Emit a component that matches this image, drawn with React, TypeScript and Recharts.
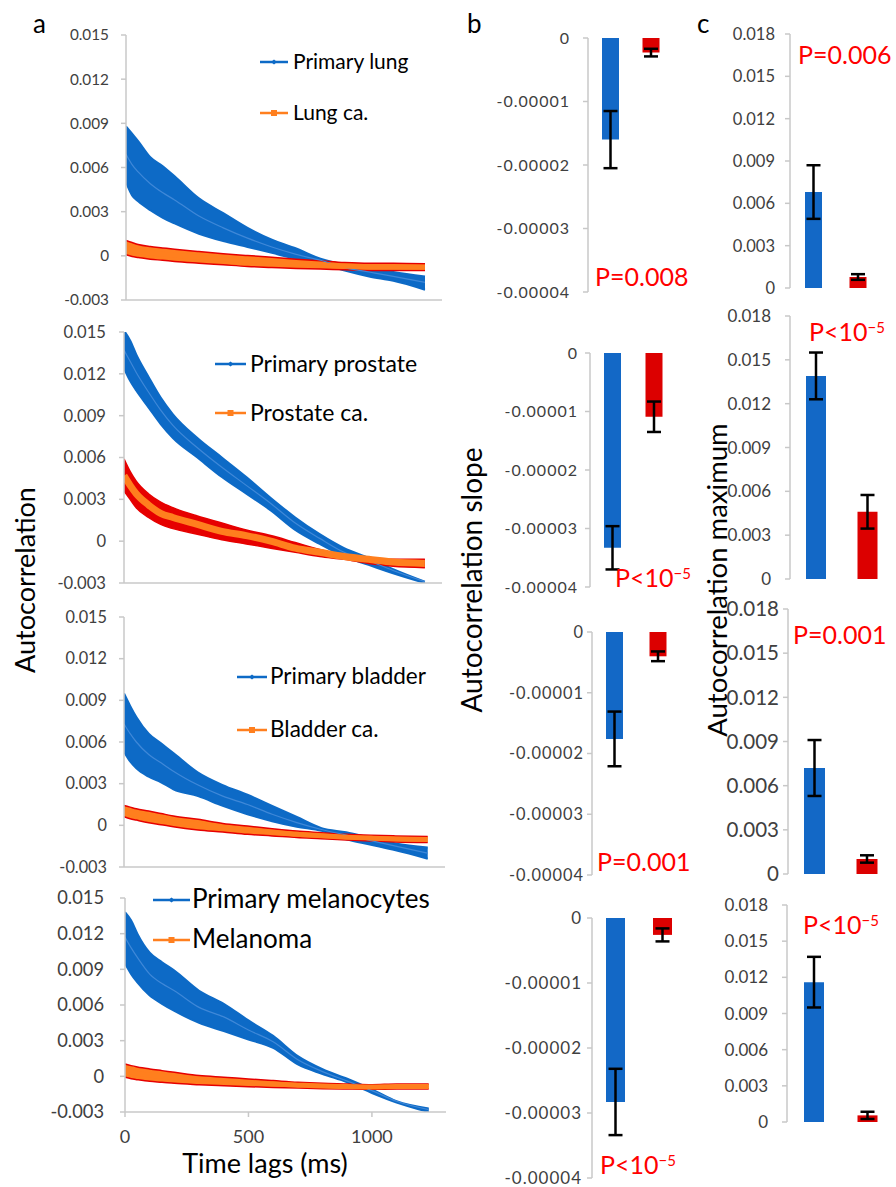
import React from 'react';
import { ComposedChart, Area, Line, XAxis, YAxis, BarChart, Bar, Cell, ErrorBar } from 'recharts';

const FONT = 'Lato, "Open Sans", sans-serif';
const BLUE_BAND = '#0d6ac6';
const BLUE_MEAN = '#3f88d8';
const ORANGE = '#ff7f1e';
const RED = '#e60000';
const BAR_BLUE = '#1368c6';
const BAR_RED = '#dc0000';
const AXIS = '#c8c8c8';
const TICK_TEXT = '#404040';
const P_RED = '#ff0000';

// ---------- data: panel a (time lags in ms) ----------
const times = [0, 25, 50, 100, 150, 200, 300, 400, 500, 600, 700, 800, 900, 1000, 1100, 1230];

const lungPrimHi = [0.0088, 0.0083, 0.0078, 0.0067, 0.0061, 0.0054, 0.0039, 0.0029, 0.0019, 0.0011, 0.0005, -0.0002, -0.0006, -0.0008, -0.0011, -0.0014];
const lungPrimLo = [0.005, 0.0041, 0.0037, 0.0031, 0.0026, 0.0022, 0.0015, 0.001, 0.0006, 0.0002, -0.0002, -0.0005, -0.001, -0.0014, -0.0017, -0.0023];
const lungPrimMean = [0.0069, 0.0062, 0.0057, 0.0049, 0.0043, 0.0038, 0.0027, 0.0019, 0.0012, 0.0006, 0.0001, -0.0003, -0.0008, -0.0011, -0.0014, -0.0018];
const lungCaHi = [0.00104, 0.0009, 0.00077, 0.00063, 0.00054, 0.00045, 0.00029, 0.00014, 0.00002, -0.00009, -0.00023, -0.00034, -0.00045, -0.0005, -0.0005, -0.00054];
const lungCaLo = [0.00007, -0.00005, -0.00011, -0.00023, -0.0003, -0.00038, -0.0005, -0.00061, -0.00072, -0.00079, -0.00086, -0.0009, -0.00095, -0.00099, -0.00099, -0.001];
const lungCaMean = [0.00055, 0.00042, 0.00033, 0.0002, 0.00012, 0.00004, -0.0001, -0.00024, -0.00035, -0.00044, -0.00055, -0.00062, -0.0007, -0.00075, -0.00075, -0.00077];

const prosPrimHi = [0.0151, 0.0144, 0.0134, 0.0118, 0.0103, 0.0091, 0.0074, 0.006, 0.0046, 0.0031, 0.0017, 0.0005, -0.0005, -0.0012, -0.002, -0.0029];
const prosPrimLo = [0.0124, 0.0115, 0.0108, 0.0096, 0.0084, 0.0074, 0.006, 0.0046, 0.0034, 0.0022, 0.0008, -0.0002, -0.0011, -0.0017, -0.0023, -0.003];
const prosPrimMean = [0.0137, 0.0129, 0.0121, 0.0107, 0.0094, 0.0083, 0.0067, 0.0053, 0.004, 0.0027, 0.0013, 0.0002, -0.0008, -0.0014, -0.0021, -0.0029];
const prosCaHi = [0.0059, 0.005, 0.0043, 0.0034, 0.0028, 0.0024, 0.0018, 0.0013, 0.0008, 0.0004, -0.0001, -0.0006, -0.001, -0.0012, -0.0013, -0.0013];
const prosCaLo = [0.0036, 0.003, 0.0024, 0.0017, 0.0012, 0.0009, 0.0005, 0.0001, -0.0002, -0.0005, -0.0008, -0.0011, -0.0013, -0.0016, -0.0018, -0.0019];
const prosCaMean = [0.0047, 0.004, 0.0034, 0.0026, 0.002, 0.0017, 0.0012, 0.0007, 0.0004, 0.0, -0.0005, -0.0008, -0.0011, -0.0013, -0.0015, -0.0016];

const bladPrimHi = [0.0095, 0.0086, 0.0078, 0.0066, 0.0059, 0.0052, 0.0038, 0.0029, 0.0022, 0.0014, 0.0006, -0.0002, -0.0005, -0.0009, -0.0013, -0.0016];
const bladPrimLo = [0.0053, 0.0046, 0.0041, 0.0035, 0.0031, 0.0026, 0.0021, 0.0014, 0.0008, 0.0003, -0.0001, -0.0004, -0.001, -0.0014, -0.0018, -0.0024];
const bladPrimMean = [0.0073, 0.0066, 0.006, 0.0051, 0.0045, 0.0039, 0.0029, 0.0021, 0.0015, 0.0008, 0.0002, -0.0003, -0.0007, -0.0011, -0.0015, -0.002];
const bladCaHi = [0.00143, 0.00131, 0.00119, 0.00103, 0.00085, 0.00067, 0.00043, 0.00014, -0.00005, -0.00024, -0.00041, -0.00053, -0.00065, -0.00072, -0.00076, -0.00081];
const bladCaLo = [0.00062, 0.00048, 0.00038, 0.00019, 0.00005, -0.0001, -0.00033, -0.00048, -0.00065, -0.00076, -0.00088, -0.00096, -0.00105, -0.00112, -0.0012, -0.00124];
const bladCaMean = [0.001, 0.0009, 0.0008, 0.0006, 0.00045, 0.0003, 0.00005, -0.00017, -0.00035, -0.0005, -0.00065, -0.00075, -0.00085, -0.00092, -0.00098, -0.00102];

const melPrimHi = [0.0138, 0.0131, 0.012, 0.0104, 0.0096, 0.0089, 0.0072, 0.0061, 0.0047, 0.0034, 0.0017, 0.0006, -0.0002, -0.0011, -0.0021, -0.0027];
const melPrimLo = [0.0095, 0.0086, 0.0079, 0.0068, 0.0061, 0.0055, 0.0045, 0.0038, 0.0031, 0.0024, 0.001, 0.0002, -0.0005, -0.0014, -0.0022, -0.003];
const melPrimMean = [0.0117, 0.0108, 0.01, 0.0086, 0.0078, 0.0072, 0.0058, 0.005, 0.0039, 0.0029, 0.0014, 0.0004, -0.0004, -0.0012, -0.0021, -0.0028];
const melCaHi = [0.00104, 0.0009, 0.00079, 0.00062, 0.00048, 0.00034, 0.00006, -0.00008, -0.00022, -0.00036, -0.0005, -0.00059, -0.00064, -0.0007, -0.00064, -0.00064];
const melCaLo = [-0.00008, -0.0002, -0.00028, -0.00042, -0.0005, -0.00059, -0.0007, -0.00079, -0.00087, -0.00093, -0.00098, -0.00104, -0.00107, -0.00109, -0.00107, -0.00107];
const melCaMean = [0.0005, 0.00035, 0.00025, 0.0001, 0.0, -0.00012, -0.00032, -0.00044, -0.00055, -0.00065, -0.00074, -0.00082, -0.00086, -0.0009, -0.00086, -0.00086];

const lungNames = ['Primary lung', 'Lung ca.'];
const prosNames = ['Primary prostate', 'Prostate ca.'];
const bladNames = ['Primary bladder', 'Bladder ca.'];
const melNames = ['Primary melanocytes', 'Melanoma'];

const timeTicksHidden = [0, 260, 520, 780, 1040, 1300];
const timeTicksShown = [0, 500, 1000];
const acTicks = [-0.003, 0, 0.003, 0.006, 0.009, 0.012, 0.015];

// ---------- data: panels b and c ----------
const groups = ['Primary', 'Cancer'];
const slopeLung = [-0.000016, -0.0000023];
const slopeLungErr = [0.0000045, 0.0000006];
const slopePros = [-0.0000333, -0.0000109];
const slopeProsErr = [0.0000037, 0.0000026];
const slopeBlad = [-0.0000176, -0.000004];
const slopeBladErr = [0.0000045, 0.0000008];
const slopeMel = [-0.0000283, -0.0000026];
const slopeMelErr = [0.0000051, 0.000001];
const slopeTicks = [-0.00004, -0.00003, -0.00002, -0.00001, 0];

const maxLung = [0.0068, 0.00078];
const maxLungErr = [0.0019, 0.0002];
const maxPros = [0.0139, 0.0046];
const maxProsErr = [0.0016, 0.00115];
const maxBlad = [0.0072, 0.00102];
const maxBladErr = [0.0019, 0.00025];
const maxMel = [0.0116, 0.00055];
const maxMelErr = [0.0021, 0.0003];
const maxTicks = [0, 0.003, 0.006, 0.009, 0.012, 0.015, 0.018];

const pLabels = ['P=0.008', 'P<10', 'P=0.001', 'P<10', 'P=0.006', 'P<10', 'P=0.001', 'P<10'];

function buildRows(pHi: number[], pLo: number[], pMean: number[], cHi: number[], cLo: number[], cMean: number[]) {
  return times.map((t, i) => ({
    t,
    prim: [pLo[i], pHi[i]],
    primMean: pMean[i],
    ca: [cLo[i], cHi[i]],
    caMean: cMean[i],
  }));
}

const fmt3 = (v: number) => (v === 0 ? '0' : v.toFixed(3));
const fmt5 = (v: number) => (v === 0 ? '0' : v.toFixed(5));

type Plot = { l: number; t: number; r: number; b: number };

function AcChart({ rows, plot, fs, tm, showLabels, redBand }: { rows: any[]; plot: Plot; fs: number; tm: number; showLabels?: boolean; redBand?: boolean }) {
  const yw = 110, mt = 14, mr = 12;
  const xh = showLabels ? 44 : 14;
  const left = plot.l - yw;
  const top = plot.t - mt;
  const width = plot.r - left + mr;
  const height = plot.b - plot.t + mt + xh;
  return (
    <div style={{ position: 'absolute', left, top }}>
      <ComposedChart width={width} height={height} data={rows} margin={{ top: mt, right: mr, bottom: 0, left: 0 }}>
        <XAxis
          dataKey="t"
          type="number"
          domain={[0, 1300]}
          allowDataOverflow
          ticks={showLabels ? timeTicksShown : timeTicksHidden}
          interval={0}
          tick={showLabels ? { fontSize: 18, fill: TICK_TEXT, fontFamily: FONT } : false}
          tickSize={5}
          tickMargin={13}
          height={xh}
          axisLine={{ stroke: AXIS, strokeWidth: 1.5 }}
          tickLine={{ stroke: AXIS, strokeWidth: 1.5 }}
        />
        <YAxis
          type="number"
          domain={[-0.003, 0.015]}
          allowDataOverflow
          ticks={acTicks}
          interval={0}
          width={yw}
          tickSize={5}
          tickMargin={tm}
          tickFormatter={fmt3}
          tick={{ fontSize: fs, fill: TICK_TEXT, fontFamily: FONT }}
          axisLine={{ stroke: AXIS, strokeWidth: 1.5 }}
          tickLine={{ stroke: AXIS, strokeWidth: 1.5 }}
        />
        <Area dataKey="prim" type="monotone" fill={BLUE_BAND} fillOpacity={1} stroke={BLUE_BAND} strokeWidth={2} isAnimationActive={false} activeDot={false} />
        <Line dataKey="primMean" type="monotone" stroke={BLUE_MEAN} strokeWidth={1.2} dot={false} activeDot={false} isAnimationActive={false} />
        <Area dataKey="ca" type="monotone" fill={redBand ? RED : ORANGE} fillOpacity={1} stroke={RED} strokeWidth={1.5} isAnimationActive={false} activeDot={false} />
        <Line dataKey="caMean" type="monotone" stroke={ORANGE} strokeWidth={redBand ? 7 : 5} dot={false} activeDot={false} isAnimationActive={false} />
      </ComposedChart>
    </div>
  );
}

function BarPanel({ vals, errs, plot, pad, barSize, domain, ticks, fmt, fs, ls, tm }: any) {
  const yw = 110, mt = 14, mb = 14, mr = 4;
  const rows = groups.map((g, i) => ({ g, v: vals[i], e: errs[i] }));
  const left = plot.l - yw;
  const top = plot.t - mt;
  const width = plot.r - left + mr;
  const height = plot.b - plot.t + mt + mb;
  return (
    <div style={{ position: 'absolute', left, top }}>
      <BarChart width={width} height={height} data={rows} margin={{ top: mt, right: mr, bottom: mb, left: 0 }} barSize={barSize}>
        <XAxis dataKey="g" hide padding={{ left: pad, right: 0 }} />
        <YAxis
          type="number"
          domain={domain}
          allowDataOverflow
          ticks={ticks}
          interval={0}
          width={yw}
          tickSize={5}
          tickMargin={tm}
          tickFormatter={fmt}
          tick={{ fontSize: fs, fill: TICK_TEXT, fontFamily: FONT, letterSpacing: ls }}
          axisLine={{ stroke: AXIS, strokeWidth: 1.5 }}
          tickLine={{ stroke: AXIS, strokeWidth: 1.5 }}
        />
        <Bar dataKey="v" isAnimationActive={false}>
          {rows.map((r, i) => (
            <Cell key={r.g} fill={i === 0 ? BAR_BLUE : BAR_RED} />
          ))}
          <ErrorBar dataKey="e" width={7} stroke="#000" strokeWidth={2.5} isAnimationActive={false} />
        </Bar>
      </BarChart>
    </div>
  );
}

function LegendBlock({ names, x1, x2, tx, ys, bases, fs }: { names: string[]; x1: number; x2: number; tx: number; ys: number[]; bases: number[]; fs: number }) {
  const cx = (x1 + x2) / 2;
  return (
    <g>
      <line x1={x1} x2={x2} y1={ys[0]} y2={ys[0]} stroke={BLUE_BAND} strokeWidth={2.5} />
      <path d={`M${cx - 3},${ys[0]} L${cx},${ys[0] - 2.5} L${cx + 3},${ys[0]} L${cx},${ys[0] + 2.5} Z`} fill={BLUE_BAND} />
      <text x={tx} y={bases[0]} fontSize={fs} fontFamily={FONT} fill="#000">{names[0]}</text>
      <line x1={x1} x2={x2} y1={ys[1]} y2={ys[1]} stroke={ORANGE} strokeWidth={2.5} />
      <rect x={cx - 3} y={ys[1] - 3} width={6} height={6} fill={ORANGE} />
      <text x={tx} y={bases[1]} fontSize={fs} fontFamily={FONT} fill="#000">{names[1]}</text>
    </g>
  );
}

function PText({ label, x, base, sup }: { label: string; x: number; base: number; sup?: boolean }) {
  return (
    <text x={x} y={base} fontSize={25} fontFamily={FONT} fill={P_RED}>
      {label}
      {sup ? (
        <tspan fontSize={15} dy={-8}>−5</tspan>
      ) : null}
    </text>
  );
}

const lungRows = buildRows(lungPrimHi, lungPrimLo, lungPrimMean, lungCaHi, lungCaLo, lungCaMean);
const prosRows = buildRows(prosPrimHi, prosPrimLo, prosPrimMean, prosCaHi, prosCaLo, prosCaMean);
const bladRows = buildRows(bladPrimHi, bladPrimLo, bladPrimMean, bladCaHi, bladCaLo, bladCaMean);
const melRows = buildRows(melPrimHi, melPrimLo, melPrimMean, melCaHi, melCaLo, melCaMean);

export default function App() {
  const slopeDomain = [-0.00004, 0];
  const maxDomain = [0, 0.018];
  return (
    <div style={{ position: 'absolute', left: 0, top: 0, width: 896, height: 1187, background: '#fff', overflow: 'hidden' }}>
      {/* panel a */}
      <AcChart rows={lungRows} plot={{ l: 126, t: 35, r: 442, b: 300 }} fs={15.3} tm={12} />
      <AcChart rows={prosRows} plot={{ l: 124, t: 332, r: 442, b: 583 }} fs={16.6} tm={13} redBand />
      <AcChart rows={bladRows} plot={{ l: 124, t: 617, r: 445, b: 867 }} fs={16.3} tm={12} />
      <AcChart rows={melRows} plot={{ l: 125, t: 898, r: 446, b: 1112 }} fs={18.3} tm={16} showLabels />

      {/* panel b */}
      <BarPanel vals={slopeLung} errs={slopeLungErr} plot={{ l: 588, t: 38, r: 671, b: 292 }} pad={2} barSize={17} domain={slopeDomain} ticks={slopeTicks} fmt={fmt5} fs={16} ls={1} tm={13} />
      <BarPanel vals={slopePros} errs={slopeProsErr} plot={{ l: 590, t: 353, r: 675, b: 587 }} pad={2} barSize={17} domain={slopeDomain} ticks={slopeTicks} fmt={fmt5} fs={16} ls={1} tm={7} />
      <BarPanel vals={slopeBlad} errs={slopeBladErr} plot={{ l: 592, t: 632, r: 680, b: 875 }} pad={1} barSize={17} domain={slopeDomain} ticks={slopeTicks} fmt={fmt5} fs={16.4} ls={1} tm={3} />
      <BarPanel vals={slopeMel} errs={slopeMelErr} plot={{ l: 592, t: 918, r: 686, b: 1178 }} pad={0} barSize={19} domain={slopeDomain} ticks={slopeTicks} fmt={fmt5} fs={17} ls={1} tm={5} />

      {/* panel c */}
      <BarPanel vals={maxLung} errs={maxLungErr} plot={{ l: 790, t: 34, r: 880, b: 288 }} pad={1} barSize={17} domain={maxDomain} ticks={maxTicks} fmt={fmt3} fs={16.5} ls={0} tm={10} />
      <BarPanel vals={maxPros} errs={maxProsErr} plot={{ l: 790, t: 316, r: 893, b: 579 }} pad={0} barSize={20} domain={maxDomain} ticks={maxTicks} fmt={fmt3} fs={17} ls={0} tm={14} />
      <BarPanel vals={maxBlad} errs={maxBladErr} plot={{ l: 788, t: 609, r: 893, b: 874 }} pad={0} barSize={21} domain={maxDomain} ticks={maxTicks} fmt={fmt3} fs={20.5} ls={0} tm={4} />
      <BarPanel vals={maxMel} errs={maxMelErr} plot={{ l: 787, t: 905, r: 894, b: 1122 }} pad={0} barSize={20} domain={maxDomain} ticks={maxTicks} fmt={fmt3} fs={17} ls={0} tm={14} />

      <svg width={896} height={1187} style={{ position: 'absolute', left: 0, top: 0, pointerEvents: 'none' }}>
        <text x={33} y={33} fontSize={26} fontFamily={FONT} fill="#000">a</text>
        <text x={467} y={33} fontSize={26} fontFamily={FONT} fill="#000">b</text>
        <text x={697} y={33} fontSize={26} fontFamily={FONT} fill="#000">c</text>

        <LegendBlock names={lungNames} x1={260} x2={288} tx={293} ys={[62, 113]} bases={[69, 120]} fs={21} />
        <LegendBlock names={prosNames} x1={215} x2={246} tx={250} ys={[364, 413]} bases={[372, 421]} fs={23} />
        <LegendBlock names={bladNames} x1={237} x2={267} tx={270} ys={[677, 730]} bases={[684, 737]} fs={22.5} />
        <LegendBlock names={melNames} x1={153} x2={190} tx={192} ys={[900, 940]} bases={[908, 948]} fs={26} />

        <text transform="translate(35,580) rotate(-90)" textAnchor="middle" fontSize={27} fontFamily={FONT} fill="#000">Autocorrelation</text>
        <text transform="translate(482,580) rotate(-90)" textAnchor="middle" fontSize={28} fontFamily={FONT} fill="#000">Autocorrelation slope</text>
        <text transform="translate(727,580) rotate(-90)" textAnchor="middle" fontSize={27.5} fontFamily={FONT} fill="#000">Autocorrelation maximum</text>
        <text x={265} y={1173} textAnchor="middle" fontSize={27} fontFamily={FONT} fill="#000">Time lags (ms)</text>

        <PText label={pLabels[0]} x={595} base={286} />
        <PText label={pLabels[1]} x={615} base={587} sup />
        <PText label={pLabels[2]} x={597} base={871} />
        <PText label={pLabels[3]} x={600} base={1174} sup />
        <PText label={pLabels[4]} x={798} base={64} />
        <PText label={pLabels[5]} x={809} base={341} sup />
        <PText label={pLabels[6]} x={793} base={644} />
        <PText label={pLabels[7]} x={803} base={934} sup />
      </svg>
    </div>
  );
}
